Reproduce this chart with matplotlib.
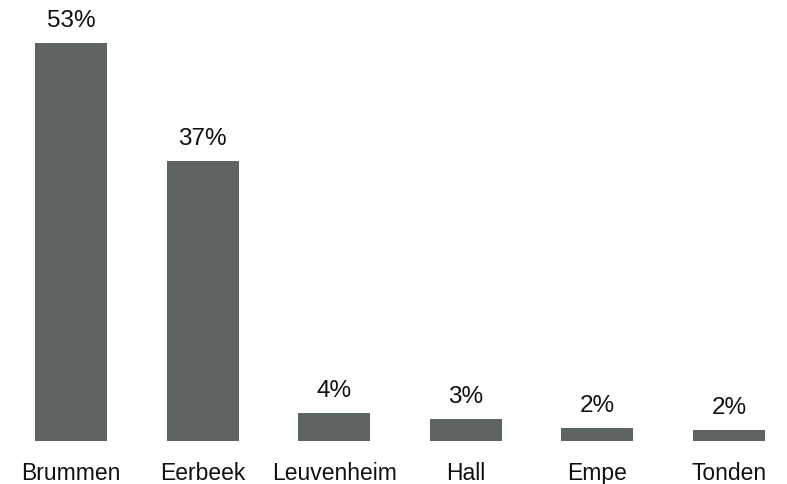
import matplotlib.pyplot as plt

# data
places = ["Brummen", "Eerbeek", "Leuvenheim", "Hall", "Empe", "Tonden"]
shares = [53.0, 37.3, 3.7, 2.9, 1.7, 1.4]
share_labels = ["53%", "37%", "4%", "3%", "2%", "2%"]

BAR_COLOR = "#5E6461"
TEXT_COLOR = "#111111"

plt.rcParams['font.family'] = ['Liberation Sans', 'DejaVu Sans']

fig = plt.figure(figsize=(7.87, 4.85), dpi=100)
ax = fig.add_axes([0, 43 / 485, 1, 442 / 485])

x = list(range(len(places)))
bars = ax.bar(x, shares, width=0.547, color=BAR_COLOR)

# value labels above the bars, baseline ~17px over the bar top
for bar, lab in zip(bars, share_labels):
    ax.annotate(lab, (bar.get_x() + bar.get_width() / 2, bar.get_height()),
                xytext=(0, 12.3), textcoords="offset points",
                ha="center", va="baseline", fontsize=17.5, color=TEXT_COLOR)

# category names under the bars, baseline ~38px below the baseline
for xi, name in zip(x, places):
    ax.annotate(name, (xi, 0), xytext=(0, -27.4), textcoords="offset points",
                ha="center", va="baseline", fontsize=16.5, color=TEXT_COLOR,
                annotation_clip=False)

ax.set_xlim(-0.54, 5.44)
ax.set_ylim(0, 53 * 442 / 398)
ax.set_xticks([])
ax.set_yticks([])
for s in ax.spines.values():
    s.set_visible(False)

fig.savefig("out.png", dpi=100)
